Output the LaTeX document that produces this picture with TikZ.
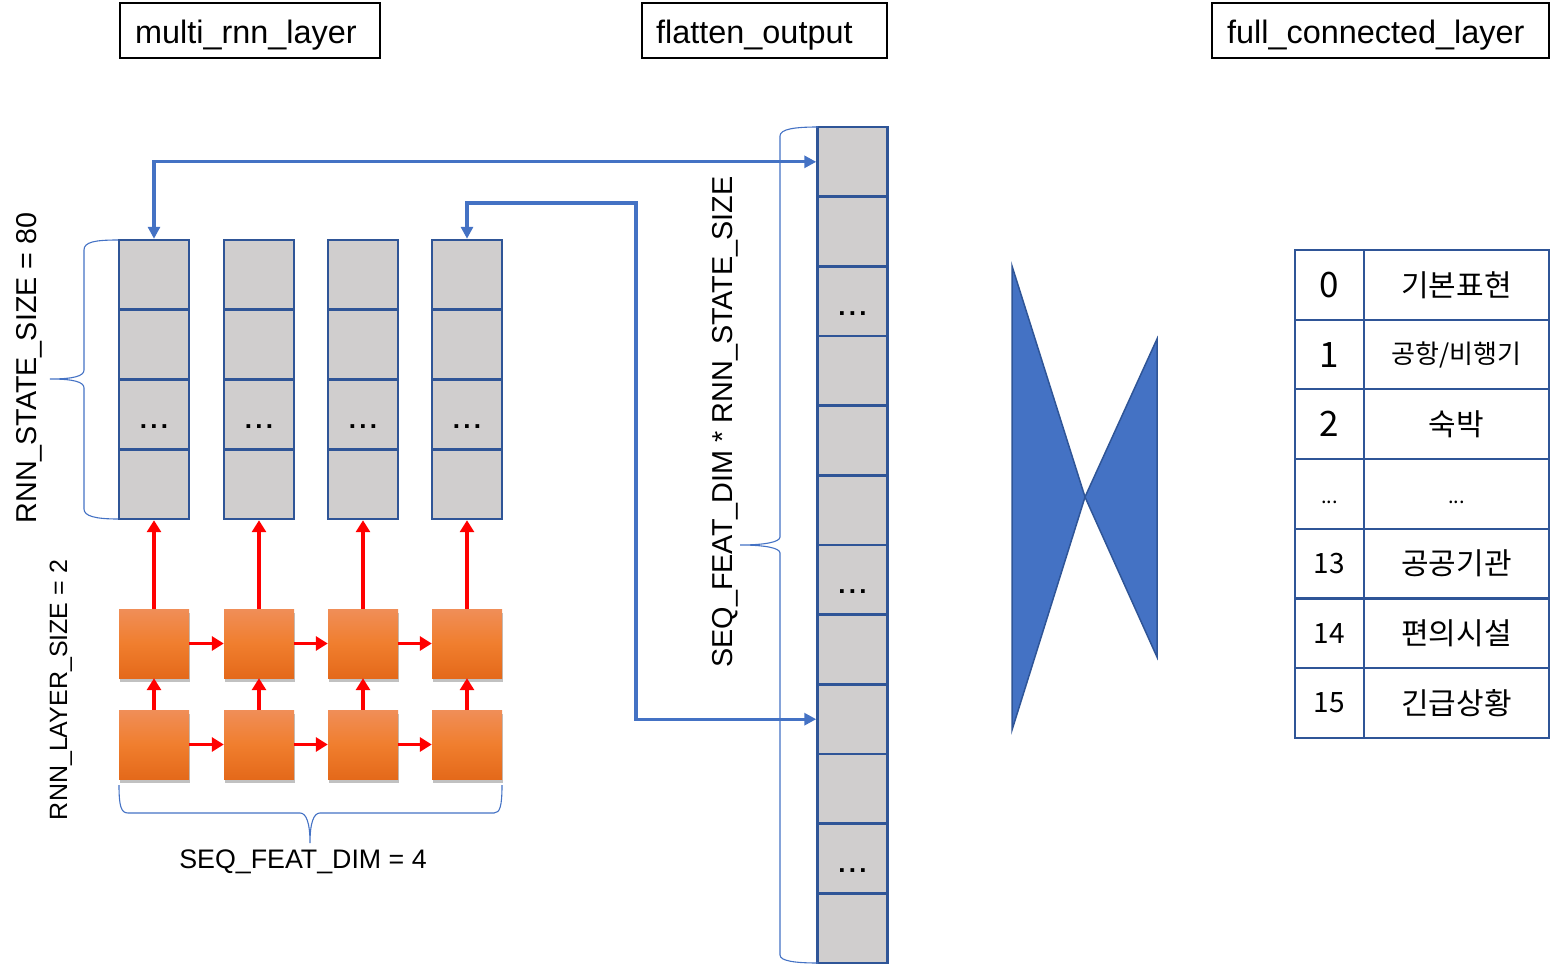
\documentclass[tikz,border=0pt]{standalone}
\usepackage{fontspec}
\setmainfont{Liberation Sans}
\newfontfamily\krfont{Noto Sans CJK KR}
\usetikzlibrary{arrows.meta,shadows,calc}
\definecolor{cellfill}{HTML}{D0CECE}
\definecolor{cellline}{HTML}{2F5597}
\definecolor{conn}{HTML}{4472C4}
\definecolor{otop}{HTML}{F08E58}
\definecolor{omid}{HTML}{F07E2E}
\definecolor{obot}{HTML}{E4691A}
\newcommand\celldots{\raisebox{-14pt}[0pt][0pt]{\fontsize{26}{26}\selectfont\bfseries .\hspace{3.2pt}.\hspace{3.2pt}.}}
\newcommand\tabdots{\raisebox{-10pt}[0pt][0pt]{\fontsize{20}{20}\selectfont ...}}
\tikzset{
 cellbox/.style={draw=cellline, fill=cellfill, line width=2.5pt, minimum width=70pt, minimum height=69.7pt, inner sep=0pt},
 titlebox/.style={draw=black, line width=2pt, inner sep=0pt, minimum height=55pt},
 titletext/.style={inner sep=0pt, anchor=base west, font=\fontsize{32.4}{36}\selectfont},
 rnncell/.style={minimum width=70pt, minimum height=69pt, inner sep=0pt, top color=otop, bottom color=obot, middle color=omid, drop shadow={opacity=0.35, fill=black!70, shadow xshift=0.8pt, shadow yshift=-4pt}},
 redarrow/.style={draw=red, line width=3.5pt, -{Triangle[length=12pt,width=14pt]}},
 blueconn/.style={draw=conn, line width=3.2pt, {Triangle[length=12pt,width=12pt]}-{Triangle[length=12pt,width=12pt]}},
 bracepath/.style={draw=conn, line width=1.1pt},
 tabcell/.style={draw=cellline, line width=2.2pt, inner sep=0pt, minimum height=69.7pt, font=\krfont},
 lbl/.style={inner sep=0pt},
}
\begin{document}
\begin{tikzpicture}[x=1pt,y=-1pt]
\useasboundingbox (0,0) rectangle (1550,965);
% titles
\node[titlebox, minimum width=260pt] (t1) at (250,30.5) {};
\node[titlebox, minimum width=245pt] (t2) at (764.5,30.5) {};
\node[titlebox, minimum width=337pt] (t3) at (1380.5,30.5) {};
\node[titletext] (t1x) at ($(t1.west)+(16,13)$) {multi\_rnn\_layer};
\node[titletext] (t2x) at ($(t2.west)+(15,13)$) {flatten\_output};
\node[titletext] (t3x) at ($(t3.west)+(16,13)$) {full\_connected\_layer};
% left state columns
\foreach \i/\x in {1/154,2/259,3/363,4/467}{
  \foreach \r in {1,2,3,4}{
    \pgfmathsetmacro{\yy}{240+(\r-0.5)*69.75}
    \ifnum\r=3
      \node[cellbox] (c-\r-\i) at (\x,\yy) {\celldots};
    \else
      \node[cellbox] (c-\r-\i) at (\x,\yy) {};
    \fi
  }
  \node[rnncell] (o1-\i) at (\x,643.5) {};
  \node[rnncell] (o2-\i) at (\x,744.5) {};
}
% red arrows
\foreach \i in {1,2,3,4}{
  \draw[redarrow] (o1-\i.north) -- (c-4-\i.south);
  \draw[redarrow] (o2-\i.north) -- (o1-\i.south);
}
\foreach \i/\j in {1/2,2/3,3/4}{
  \draw[redarrow] (o1-\i.east) -- (o1-\j.west);
  \draw[redarrow] (o2-\i.east) -- (o2-\j.west);
}
% flatten column
\foreach \r in {1,2,3,4,5,6,7,8,9,10,11,12}{
  \pgfmathsetmacro{\yy}{127+(\r-0.5)*69.67}
  \ifnum\r=3 \node[cellbox] (f\r) at (852.5,\yy) {\celldots};
  \else\ifnum\r=7 \node[cellbox] (f\r) at (852.5,\yy) {\celldots};
  \else\ifnum\r=11 \node[cellbox] (f\r) at (852.5,\yy) {\celldots};
  \else \node[cellbox] (f\r) at (852.5,\yy) {};
  \fi\fi\fi
}
% blue connectors
\coordinate (k1) at (636,203);
\draw[blueconn] (f1.west) -| (c-1-1.north);
\draw[blueconn] (c-1-4.north) |- (k1) |- (f9.west);
% braces
\draw[bracepath] (118,240) .. controls (95,240) and (84,242) .. (84,250) -- (84,370) .. controls (84,376) and (74,379) .. (50,379) .. controls (74,379) and (84,382) .. (84,388) -- (84,509) .. controls (84,516) and (95,519) .. (118,519);
\draw[bracepath] (119,785) .. controls (119,806) and (121,813) .. (128,813) -- (300,813) .. controls (306,813) and (310,822) .. (310,843) .. controls (310,822) and (314,813) .. (320,813) -- (494,813) .. controls (500,813) and (502,806) .. (502,785);
\draw[bracepath] (818,127) .. controls (795,127) and (780,129) .. (780,136) -- (780,537) .. controls (780,542) and (765,545) .. (740,545) .. controls (765,545) and (780,548) .. (780,553) -- (780,955) .. controls (780,961) and (795,963) .. (818,963);
% labels
\node[lbl, rotate=90, font=\fontsize{28.7}{30}\selectfont] (l1) at (29,368) {RNN\_STATE\_SIZE = 80};
\node[lbl, rotate=90, font=\fontsize{25}{27}\selectfont] (l2) at (61,690) {RNN\_LAYER\_SIZE = 2};
\node[lbl, font=\fontsize{26.8}{28}\selectfont] (l3) at (303,862) {SEQ\_FEAT\_DIM = 4};
\node[lbl, rotate=90, font=\fontsize{28.8}{30}\selectfont] (l4) at (725,422) {SEQ\_FEAT\_DIM * RNN\_STATE\_SIZE};
% bowtie
\draw[fill=conn, draw=cellline, line width=1.5pt, line join=miter] (1012,266) -- (1085,497) -- (1012,730) -- cycle;
\draw[fill=conn, draw=cellline, line width=1.5pt, line join=miter] (1157,339) -- (1085,497) -- (1157,657) -- cycle;
% table
\foreach \r/\n/\ns/\k/\ks in {1/0/35/기본표현/30, 2/1/35/{공항/비행기}/26, 3/2/35/숙박/30, 4/\tabdots/20/\tabdots/20, 5/13/28/공공기관/30, 6/14/28/편의시설/30, 7/15/28/긴급상황/30}{
  \pgfmathsetmacro{\yy}{250+(\r-0.5)*69.7}
  \node[tabcell, minimum width=69pt] (tl\r) at (1329.5,\yy) {\fontsize{\ns}{\ns}\selectfont \n};
  \node[tabcell, minimum width=185pt] (tr\r) at (1456.5,\yy) {\fontsize{\ks}{\ks}\selectfont \k};
}
\end{tikzpicture}
\end{document}
